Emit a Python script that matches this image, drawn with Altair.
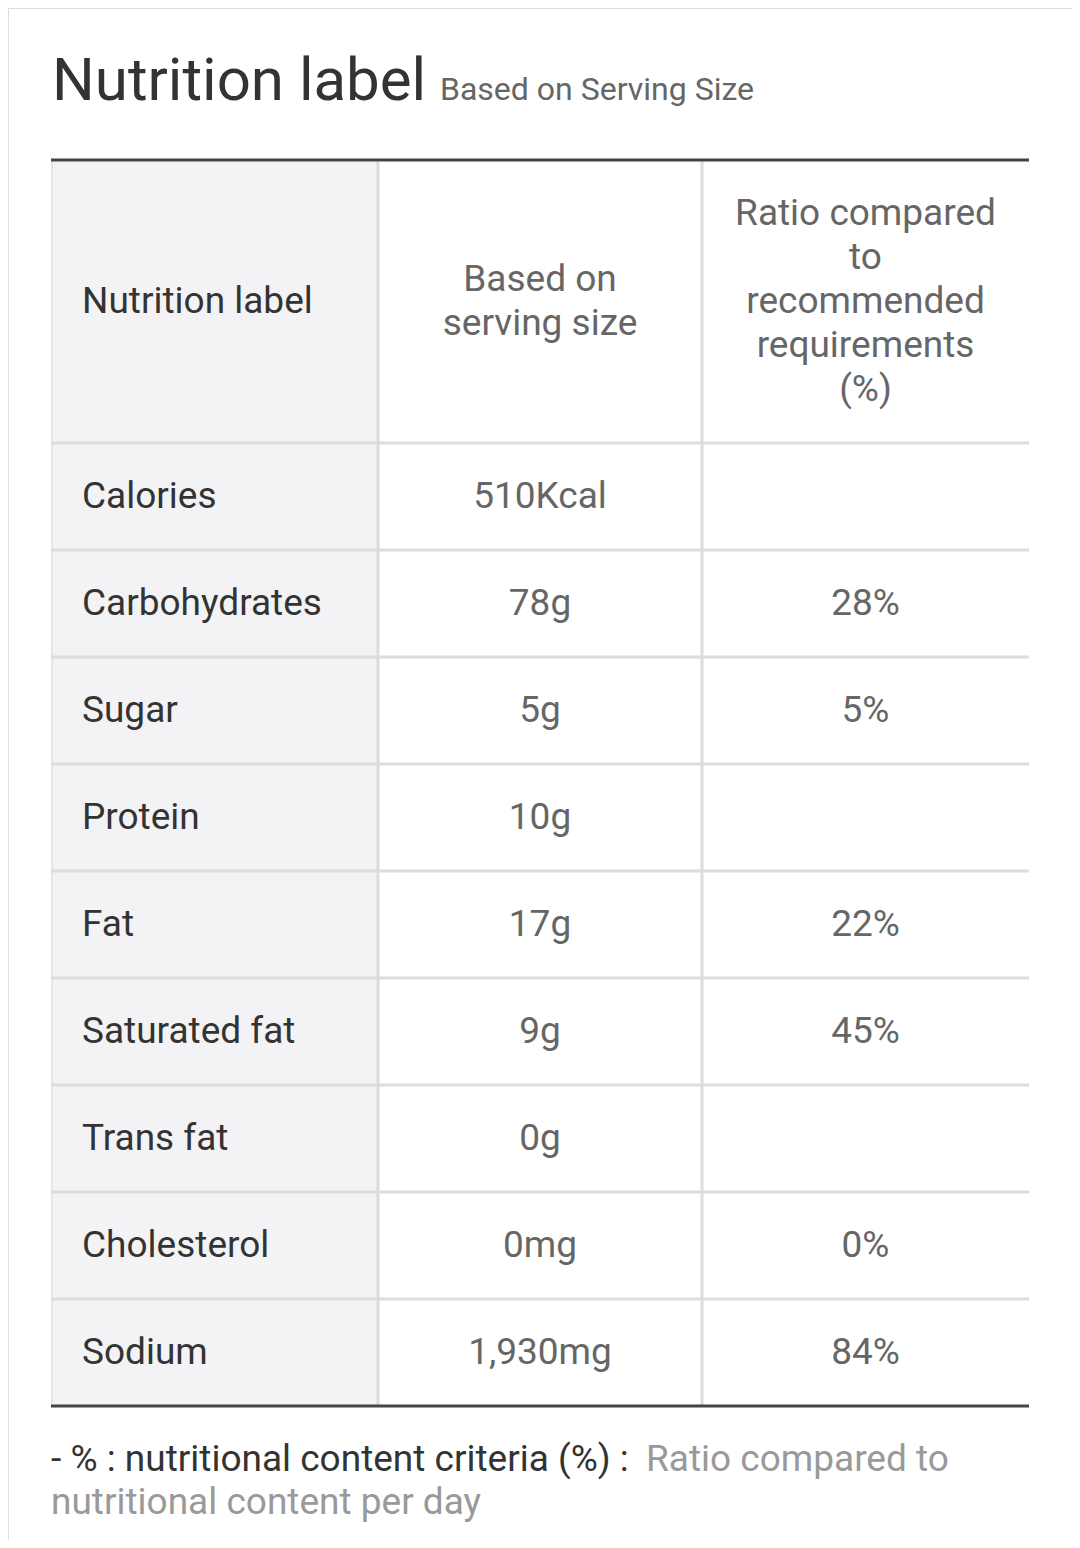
import altair as alt
import pandas as pd

# ---- data ----
nutrients = ["Calories", "Carbohydrates", "Sugar", "Protein", "Fat",
             "Saturated fat", "Trans fat", "Cholesterol", "Sodium"]
amounts = ["510Kcal", "78g", "5g", "10g", "17g", "9g", "0g", "0mg", "1,930mg"]
ratios = ["", "28%", "5%", "", "22%", "45%", "", "0%", "84%"]
headers = ["Nutrition label", "Based on\nserving size",
           "Ratio compared\nto\nrecommended\nrequirements\n(%)"]
title_text = "Nutrition label"
subtitle_text = "Based on Serving Size"
note_dark = "- % : nutritional content criteria (%) : "
note_grey_1 = "Ratio compared to"
note_grey_2 = "nutritional content per day"

# ---- layout (pixels in chart space) ----
W, H = 1064, 1532
LEFT, RIGHT = 43, 1021
COL_EDGES = [LEFT, 370, 694, RIGHT]
TOP = 152
HEADER_H = 283
ROW_H = 107
LINE_H = 44
FS = 37
n = len(nutrients)
BOTTOM = TOP + HEADER_H + n * ROW_H
FONT = "Roboto"

xs = alt.Scale(domain=[0, W], range=[0, W])
ys = alt.Scale(domain=[0, H], range=[0, H])

def X(f):
    return alt.X(f, type="quantitative", scale=xs, axis=None)

def Y(f):
    return alt.Y(f, type="quantitative", scale=ys, axis=None)

# background of first column
bg = alt.Chart(pd.DataFrame({"x": [COL_EDGES[0]], "x2": [COL_EDGES[1]],
                             "y": [TOP], "y2": [BOTTOM]})).mark_rect(
    color="#f3f3f5").encode(x=X("x"), x2="x2", y=Y("y"), y2="y2")

# horizontal separators
row_edges = [TOP + HEADER_H + i * ROW_H for i in range(n)]
hlines = alt.Chart(pd.DataFrame({"y": row_edges, "x": LEFT, "x2": RIGHT})).mark_rule(
    color="#dcdcdc", strokeWidth=3).encode(x=X("x"), x2="x2", y=Y("y"))

# vertical separators
vlines = alt.Chart(pd.DataFrame({"x": COL_EDGES[1:3], "y": TOP, "y2": BOTTOM})).mark_rule(
    color="#dcdcdc", strokeWidth=3).encode(x=X("x"), y=Y("y"), y2="y2")

left_edge = alt.Chart(pd.DataFrame({"x": [LEFT + 1], "y": [TOP], "y2": [BOTTOM]})).mark_rule(
    color="#e6e6e8", strokeWidth=2).encode(x=X("x"), y=Y("y"), y2="y2")

# top and bottom dark borders
borders = alt.Chart(pd.DataFrame({"y": [TOP, BOTTOM], "x": LEFT, "x2": RIGHT})).mark_rule(
    color="#444444", strokeWidth=3).encode(x=X("x"), x2="x2", y=Y("y"))

# header texts (first line position so the block is centred in the header cell)
hy = TOP + HEADER_H / 2
hdr = pd.DataFrame({
    "text": headers,
    "x": [LEFT + 31, (COL_EDGES[1] + COL_EDGES[2]) / 2, (COL_EDGES[2] + COL_EDGES[3]) / 2],
    "y": [hy - (h.count("\n")) * LINE_H / 2 for h in headers],
})
hdr_left = alt.Chart(hdr.iloc[[0]]).mark_text(
    font=FONT, fontSize=FS, align="left", baseline="middle", color="#333333",
    lineBreak="\n", lineHeight=LINE_H).encode(x=X("x"), y=Y("y"), text="text")
hdr_rest = alt.Chart(hdr.iloc[1:]).mark_text(
    font=FONT, fontSize=FS, align="center", baseline="middle", color="#666666",
    lineBreak="\n", lineHeight=LINE_H).encode(x=X("x"), y=Y("y"), text="text")

# body
body = pd.DataFrame({
    "nutrient": nutrients,
    "amount": amounts,
    "ratio": ratios,
    "y": [TOP + HEADER_H + i * ROW_H + ROW_H / 2 for i in range(n)],
})
body["x1"] = LEFT + 31
body["x2"] = (COL_EDGES[1] + COL_EDGES[2]) / 2
body["x3"] = (COL_EDGES[2] + COL_EDGES[3]) / 2

t1 = alt.Chart(body).mark_text(font=FONT, fontSize=FS, align="left", baseline="middle",
                               color="#333333").encode(x=X("x1"), y=Y("y"), text="nutrient")
t2 = alt.Chart(body).mark_text(font=FONT, fontSize=FS, align="center", baseline="middle",
                               color="#666666").encode(x=X("x2"), y=Y("y"), text="amount")
t3 = alt.Chart(body).mark_text(font=FONT, fontSize=FS, align="center", baseline="middle",
                               color="#666666").encode(x=X("x3"), y=Y("y"), text="ratio")

# title
title = alt.Chart(pd.DataFrame({"t": [title_text], "x": [44], "y": [92]})).mark_text(
    font=FONT, fontSize=60, align="left", baseline="alphabetic", color="#333333"
).encode(x=X("x"), y=Y("y"), text="t")
subtitle = alt.Chart(pd.DataFrame({"t": [subtitle_text], "x": [432], "y": [92]})).mark_text(
    font=FONT, fontSize=32, align="left", baseline="alphabetic",
    color="#666666").encode(x=X("x"), y=Y("y"), text="t")

# footnote
fn1 = alt.Chart(pd.DataFrame({"t": [note_dark], "x": [43], "y": [1452]})).mark_text(
    font=FONT, fontSize=FS, align="left", baseline="middle", color="#333333"
).encode(x=X("x"), y=Y("y"), text="t")
fn2 = alt.Chart(pd.DataFrame({"t": [note_grey_1, note_grey_2], "x": [638, 43],
                              "y": [1452, 1495]})).mark_text(
    font=FONT, fontSize=FS, align="left", baseline="middle", color="#999999"
).encode(x=X("x"), y=Y("y"), text="t")

chart = alt.layer(bg, left_edge, hlines, vlines, borders, hdr_left, hdr_rest,
                  t1, t2, t3, title, subtitle, fn1, fn2).properties(
    width=W, height=H, autosize=alt.AutoSizeParams(type="none"), padding=0
).configure_view(strokeWidth=0, stroke="transparent").configure(background="white")

chart.save("out.html", embed_options={"renderer": "svg", "actions": False})
